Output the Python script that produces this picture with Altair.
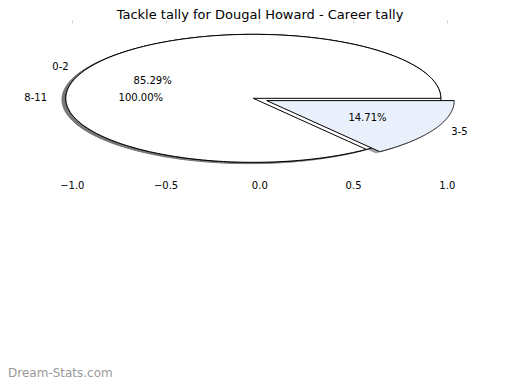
import numpy as np
import pandas as pd
import altair as alt

# ---- data ----
chart_title = "Tackle tally for Dougal Howard - Career tally"
pie_a_labels = ["0-2", "3-5"]
pie_a_counts = [29, 5]            # 85.29% / 14.71%
pie_a_colors = ["#ffffff", "#eaf0fb"]
pie_a_explode = [0.0, 0.08]
pie_b_labels = ["8-11"]
pie_b_counts = [1]                # 100.00%
pie_b_colors = ["#ffffff"]
pie_b_explode = [0.0]
x_ticks = [-1.0, -0.5, 0.0, 0.5, 1.0]
watermark = "Dream-Stats.com"

# ---- layout constants ----
CX, CY, R = -0.032, 0.0, 1.0
SHADOW = (-0.02, -0.02)
FONT = "DejaVu Sans"

xs = alt.Scale(domain=[-1.3403, 1.3477], nice=False, zero=False)
ys = alt.Scale(domain=[-1.245, 1.177], nice=False, zero=False)


def wedges(labels, counts, colors, explode):
    total = float(sum(counts))
    out = []
    t1 = 0.0
    for lab, c, col, ex in zip(labels, counts, colors, explode):
        frac = c / total
        t2 = t1 + 360.0 * frac
        mid = np.deg2rad((t1 + t2) / 2)
        ox, oy = ex * np.cos(mid), ex * np.sin(mid)
        cx, cy = CX + ox, CY + oy
        th = np.deg2rad(np.linspace(t1, t2, 240))
        px = list(cx + R * np.cos(th))
        py = list(cy + R * np.sin(th))
        if frac < 0.9999:
            px = [cx] + px + [cx]
            py = [cy] + py + [cy]
        poly = pd.DataFrame({"x": px, "y": py, "i": range(len(px))})
        out.append(dict(label=lab, frac=frac, color=col, poly=poly, mid=mid, cx=cx, cy=cy))
        t1 = t2
    return out


all_w = wedges(pie_b_labels, pie_b_counts, pie_b_colors, pie_b_explode) + \
    wedges(pie_a_labels, pie_a_counts, pie_a_colors, pie_a_explode)


def poly_layer(df, fill, stroke, opacity=1.0):
    return alt.Chart(df).mark_line(
        fill=fill, stroke=stroke, strokeWidth=1, opacity=opacity, strokeJoin="round"
    ).encode(
        x=alt.X("x:Q", scale=xs, axis=None),
        y=alt.Y("y:Q", scale=ys, axis=None),
        order=alt.Order("i:Q"),
    )


layers = []
# shadows first
for w in all_w:
    d = w["poly"].copy()
    d["x"] = d["x"] + SHADOW[0]
    d["y"] = d["y"] + SHADOW[1]
    rgb = np.array([int(w["color"][k:k + 2], 16) for k in (1, 3, 5)]) * 0.3
    sc = "#%02x%02x%02x" % tuple(int(v) for v in rgb)
    layers.append(poly_layer(d, sc, sc, 0.5))
# wedges
for w in all_w:
    layers.append(poly_layer(w["poly"], w["color"], "black"))

# labels
lab_rows, pct_rows = [], []
for w in all_w:
    lx = w["cx"] + 1.1 * R * np.cos(w["mid"])
    ly = w["cy"] + 1.1 * R * np.sin(w["mid"])
    lab_rows.append({"x": lx, "y": ly, "t": w["label"], "side": "left" if lx > 0 else "right"})
    pct_rows.append({"x": w["cx"] + 0.6 * R * np.cos(w["mid"]),
                     "y": w["cy"] + 0.6 * R * np.sin(w["mid"]),
                     "t": "%.2f%%" % (100 * w["frac"])})
lab_df = pd.DataFrame(lab_rows)
pct_df = pd.DataFrame(pct_rows)

for side in ["left", "right"]:
    sub = lab_df[lab_df["side"] == side]
    layers.append(alt.Chart(sub).mark_text(
        align=side, baseline="middle", font=FONT, fontSize=10, color="black"
    ).encode(x=alt.X("x:Q", scale=xs, axis=None), y=alt.Y("y:Q", scale=ys, axis=None), text="t:N"))

layers.append(alt.Chart(pct_df).mark_text(
    align="center", baseline="middle", font=FONT, fontSize=10, color="black"
).encode(x=alt.X("x:Q", scale=xs, axis=None), y=alt.Y("y:Q", scale=ys, axis=None), text="t:N"))

# axes
tick_df = pd.DataFrame({"x": x_ticks})
bottom_axis = alt.Chart(tick_df).mark_point(opacity=0).encode(
    x=alt.X("x:Q", scale=xs, axis=alt.Axis(
        orient="bottom", values=x_ticks, format=".1f", title=None, grid=False,
        domain=False, ticks=False, labelPadding=2, labelFont=FONT,
        labelFontSize=10, labelColor="black")),
)
top_axis = alt.Chart(tick_df).mark_point(opacity=0).encode(
    x=alt.X("x:Q", scale=xs, axis=alt.Axis(
        orient="top", values=x_ticks, title=None, grid=False, domain=False,
        labels=False, ticks=True, tickSize=3, tickColor="#cccccc")),
)

wm = alt.Chart(pd.DataFrame({"t": [watermark]})).mark_text(
    align="left", baseline="middle", font=FONT, fontSize=12, color="#999999"
).encode(x=alt.value(0), y=alt.value(350), text="t:N")

chart = alt.layer(bottom_axis, top_axis, *layers, wm).resolve_axis(x="independent").properties(
    width=504,
    height=155,
    autosize=alt.AutoSizeParams(type="none"),
    padding={"left": 0, "top": 15, "right": 0, "bottom": 204},
    title=alt.Title(chart_title, font=FONT, fontSize=13, fontWeight="normal",
                    color="black", offset=-2),
).configure_view(stroke=None)

chart.save("out.html", embed_options={"renderer": "svg", "actions": False})
